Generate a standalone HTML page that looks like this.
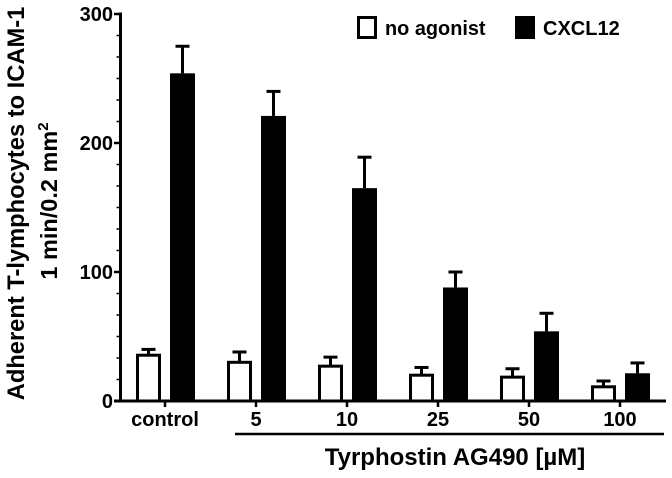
<!DOCTYPE html>
<html lang="en">
<head>
<meta charset="utf-8">
<title>Adherent T-lymphocytes chart</title>
<style>
html,body{margin:0;padding:0;background:#fff;width:672px;height:478px;overflow:hidden}
svg{display:block;font-family:"Liberation Sans",Arial,sans-serif;font-weight:bold;fill:#000}
text{fill:#000}
.soft{filter:blur(.35px)}
</style>
</head>
<body>
<svg id="chart" width="672" height="478" viewBox="0 0 672 478" xmlns="http://www.w3.org/2000/svg">
  <g id="marks" class="soft"></g>
  <g class="soft">
    <text x="455" y="465" font-size="24" text-anchor="middle">Tyrphostin AG490 [µM]</text>
    <line x1="235" y1="434" x2="664" y2="434" stroke="#000" stroke-width="2.5"/>
    <text transform="translate(24,203.5) rotate(-90)" font-size="23.7" text-anchor="middle">Adherent T-lymphocytes to ICAM-1</text>
    <text transform="translate(57,201) rotate(-90)" font-size="23.5" text-anchor="middle">1 min/0.2 mm<tspan font-size="15" dy="-9">2</tspan></text>
    <rect x="358.5" y="17.5" width="17" height="20" fill="#fff" stroke="#000" stroke-width="3"/>
    <text x="385" y="35" font-size="19.9">no agonist</text>
    <rect x="515" y="16" width="20" height="23" fill="#000"/>
    <text x="543" y="35" font-size="20">CXCL12</text>
  </g>
</svg>
<script>
const categories = ['control', '5', '10', '25', '50', '100'];
const noAgonistValues = [35.5, 30, 27, 20, 18.5, 11];
const noAgonistErrorTops = [40, 38, 34, 26, 25, 15.5];
const cxcl12Values = [254, 221, 165, 88, 54, 21.5];
const cxcl12ErrorTops = [275, 240, 189, 100, 68, 29.5];
const yTickLabels = [0, 100, 200, 300];
const yMinorPerMajor = 6;

const NS = 'http://www.w3.org/2000/svg';
const marks = document.getElementById('marks');
function yScale(v) { return 401 - v * 1.29; }
function xScale(i) { return 165 + i * 91; }
function make(tag, attrs, parent) {
  const el = document.createElementNS(NS, tag);
  for (const k in attrs) el.setAttribute(k, attrs[k]);
  (parent || marks).appendChild(el);
  return el;
}

categories.forEach(function (cat, i) {
  const cx = xScale(i);
  const wx = cx - 16.5;
  const bx = cx + 17.5;

  const wErr = make('line', {x1: wx, x2: wx, y1: yScale(noAgonistErrorTops[i]), y2: yScale(noAgonistValues[i]), stroke: '#000', 'stroke-width': 3});
  
  
  const wCap = make('line', {x1: wx - 7, x2: wx + 7, y1: yScale(noAgonistErrorTops[i]), y2: yScale(noAgonistErrorTops[i]), stroke: '#000', 'stroke-width': 3});
  
  
  const wBar = make('rect', {x: wx - 11, y: yScale(noAgonistValues[i]), width: 22, height: 401 - yScale(noAgonistValues[i]), fill: '#fff', stroke: '#000', 'stroke-width': 3});
  
  

  const bErr = make('line', {x1: bx, x2: bx, y1: yScale(cxcl12ErrorTops[i]), y2: yScale(cxcl12Values[i]), stroke: '#000', 'stroke-width': 3});
  
  
  const bCap = make('line', {x1: bx - 7, x2: bx + 7, y1: yScale(cxcl12ErrorTops[i]), y2: yScale(cxcl12ErrorTops[i]), stroke: '#000', 'stroke-width': 3});
  
  
  const bBar = make('rect', {x: bx - 12.5, y: yScale(cxcl12Values[i]), width: 25, height: 401 - yScale(cxcl12Values[i]), fill: '#000'});
  
  

  const tick = make('line', {x1: cx, x2: cx, y1: 401, y2: 407, stroke: '#000', 'stroke-width': 2.5});
  
  
  const label = make('text', {x: cx, y: 426, 'font-size': 20, 'text-anchor': 'middle'});
  label.textContent = cat;
  
  
});

const xAxis = make('line', {x1: 114, x2: 666, y1: 401, y2: 401, stroke: '#000', 'stroke-width': 3});


const yAxis = make('line', {x1: 120.5, x2: 120.5, y1: yScale(300) - 1.5, y2: 402, stroke: '#000', 'stroke-width': 3});



yTickLabels.forEach(function (v, i) {
  const major = make('line', {x1: 114, x2: 120, y1: yScale(v), y2: yScale(v), stroke: '#000', 'stroke-width': 2.5});
  
  
  const label = make('text', {x: 113, y: yScale(v) + 7, 'font-size': 20, 'text-anchor': 'end'});
  label.textContent = v;
  
  
  if (i < yTickLabels.length - 1) {
    const step = (yTickLabels[i + 1] - v) / yMinorPerMajor;
    for (let m = 1; m < yMinorPerMajor; m++) {
      const minor = make('line', {x1: 116.5, x2: 120, y1: yScale(v + step * m), y2: yScale(v + step * m), stroke: '#000', 'stroke-width': 1.5});
      
      
    }
  }
});
</script>
</body>
</html>
